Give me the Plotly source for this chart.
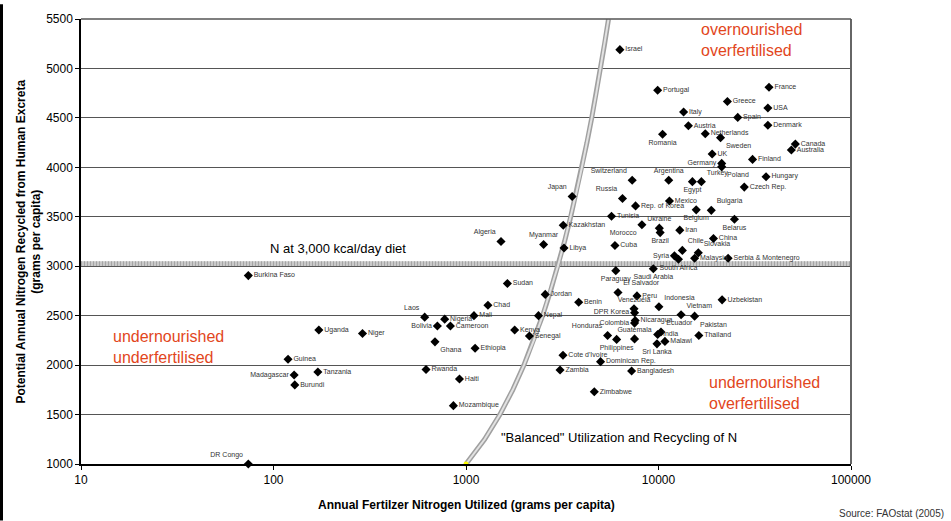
import plotly.graph_objects as go

# ---------------- data ----------------
countries = [
    "Israel", "Portugal", "France", "Greece", "USA", "Italy", "Spain", "Austria", "Denmark",
    "Netherlands", "Romania", "Sweden", "Canada", "Australia", "UK", "Finland", "Germany",
    "Poland", "Hungary", "Switzerland", "Argentina", "Egypt", "Turkey", "Czech Rep.", "Japan",
    "Russia", "Rep. of Korea", "Mexico", "Bulgaria", "Belgium", "Tunisia", "Belarus",
    "Kazakhstan", "Morocco", "Ukraine", "Brazil", "Iran", "China", "Algeria", "Myanmar",
    "Libya", "Cuba", "Chile", "Syria", "South Africa", "Slovakia", "Malaysia",
    "Serbia & Montenegro", "Paraguay", "Saudi Arabia", "Sudan", "Jordan", "El Salvador",
    "Peru", "Uzbekistan", "Chad", "Benin", "Venezuela", "Indonesia", "DPR Korea", "Laos",
    "Nigeria", "Mali", "Nepal", "Vietnam", "Pakistan", "Nicaragua", "Colombia", "Bolivia",
    "Cameroon", "Kenya", "Senegal", "Honduras", "Ecuador", "India", "Thailand", "Guatemala",
    "Philippines", "Sri Lanka", "Malawi", "Ghana", "Ethiopia", "Cote d'Ivoire",
    "Dominican Rep.", "Rwanda", "Zambia", "Bangladesh", "Haiti", "Zimbabwe", "Burkina Faso",
    "Uganda", "Niger", "Guinea", "Madagascar", "Tanzania", "Burundi", "Mozambique", "DR Congo",
]
fertilizer_n = [
    6300, 9900, 37500, 22800, 37000, 13500, 25800, 14300, 37000,
    17500, 10500, 21000, 51400, 49000, 19000, 30800, 21300,
    21300, 36200, 7300, 11300, 15000, 16700, 27900, 3560,
    6500, 7600, 11400, 18800, 15700, 5700, 24800,
    3200, 8200, 10100, 10200, 12900, 19300, 1520, 2530,
    3230, 5940, 13300, 12100, 12700, 16100, 15400,
    23000, 6000, 9400, 1640, 2580, 6160,
    7730, 21400, 1300, 3850, 7460, 10050, 7510, 610,
    775, 1100, 2380, 13100, 15400, 7570, 7510, 710,
    830, 1790, 2135, 5440, 10300, 9900, 16200, 7510,
    6060, 9820, 10800, 690, 1115, 3190,
    5000, 620, 3080, 7250, 925, 4640, 74,
    172, 290, 119, 128, 170, 129, 860, 74,
]
recycled_n = [
    5190, 4780, 4810, 4665, 4600, 4560, 4505, 4420, 4425,
    4340, 4335, 4300, 4235, 4175, 4135, 4080, 4040,
    4005, 3905, 3870, 3870, 3855, 3855, 3800, 3705,
    3685, 3610, 3660, 3565, 3570, 3505, 3475,
    3415, 3420, 3385, 3340, 3365, 3280, 3250, 3220,
    3185, 3210, 3160, 3105, 3070, 3135, 3080,
    3080, 2955, 2975, 2825, 2715, 2735,
    2700, 2660, 2605, 2635, 2570, 2590, 2530, 2485,
    2465, 2500, 2500, 2510, 2495, 2450, 2425, 2395,
    2395, 2355, 2295, 2300, 2335, 2310, 2300, 2265,
    2260, 2215, 2240, 2235, 2170, 2100,
    2035, 1955, 1950, 1940, 1860, 1730, 2905,
    2355, 2320, 2060, 1900, 1930, 1800, 1590, 1000,
]
label_positions = [
    "middle right", "middle right", "middle right", "middle right", "middle right",
    "middle right", "middle right", "middle right", "middle right",
    "middle right", "bottom center", "bottom right", "middle right", "middle right",
    "middle right", "middle right", "middle left",
    "bottom right", "middle right", "top left", "top center", "bottom center", "top right",
    "middle right", "top left",
    "top left", "middle right", "middle right", "top right", "bottom center", "middle right",
    "bottom center",
    "middle right", "bottom left", "top center", "bottom center", "middle right",
    "middle right", "top left", "top center",
    "middle right", "middle right", "top right", "middle left", "bottom center", "top right",
    "middle right",
    "middle right", "bottom center", "bottom center", "middle right", "middle right",
    "top right",
    "middle right", "middle right", "middle right", "middle right", "top center", "top right",
    "middle left", "top left",
    "middle right", "middle right", "middle right", "top right", "bottom right",
    "middle right", "middle left", "middle left",
    "middle right", "middle right", "middle right", "top left", "top right", "middle right",
    "middle right", "top center",
    "bottom center", "bottom center", "middle right", "bottom right", "middle right",
    "middle right",
    "middle right", "middle right", "middle right", "middle right", "middle right",
    "middle right", "middle right",
    "middle right", "middle right", "middle right", "middle left", "middle right",
    "middle right", "middle right", "top left",
]

# "Balanced" line: fertiliser N equals recycled N
balance_x = [1000, 1250, 1500, 1750, 2000, 2250, 2500, 2750, 3000, 3250, 3500, 3750,
             4000, 4250, 4500, 4750, 5000, 5250, 5500]
balance_y = [1000, 1250, 1500, 1750, 2000, 2250, 2500, 2750, 3000, 3250, 3500, 3750,
             4000, 4250, 4500, 4750, 5000, 5250, 5500]

diet_n_level = 3025   # N at 3,000 kcal/day diet

x_tick_vals = [10, 100, 1000, 10000, 100000]
x_tick_text = ["10", "100", "1000", "10000", "100000"]
y_tick_vals = [1000, 1500, 2000, 2500, 3000, 3500, 4000, 4500, 5000, 5500]

# ---------------- figure ----------------
W, H = 951, 521
ML, MR, MT, MB = 81, 100, 15, 57
PW, PH = W - ML - MR, H - MT - MB

ORANGE = "#E2461C"
LABEL_FONT = "Liberation Sans Narrow, Arial Narrow, Liberation Sans, Arial, sans-serif"
MAIN_FONT = "Liberation Sans, Arial, sans-serif"

fig = go.Figure()

# balanced line (double gray line)
fig.add_trace(go.Scatter(x=balance_x, y=balance_y, mode="lines",
                         line=dict(color="#a0a0a0", width=5), hoverinfo="skip",
                         showlegend=False, cliponaxis=False))
fig.add_trace(go.Scatter(x=balance_x, y=balance_y, mode="lines",
                         line=dict(color="#e2e2e2", width=2), hoverinfo="skip",
                         showlegend=False, cliponaxis=False))
fig.add_trace(go.Scatter(x=balance_x[:1], y=balance_y[:1], mode="markers",
                         marker=dict(color="#ffff00", size=5), hoverinfo="skip",
                         showlegend=False, cliponaxis=False))

# countries
fig.add_trace(go.Scatter(
    x=fertilizer_n, y=recycled_n, mode="markers+text", text=countries,
    textposition=label_positions,
    textfont=dict(family=LABEL_FONT, size=7, color="#333333"),
    marker=dict(symbol="diamond", size=7, color="black"),
    showlegend=False, cliponaxis=False,
))

shapes = [
    # diet level band
    dict(type="line", xref="paper", x0=0, x1=1, yref="y", y0=diet_n_level, y1=diet_n_level,
         line=dict(color="#c9c9c9", width=5), layer="below"),
    dict(type="line", xref="paper", x0=0, x1=1, yref="y", y0=diet_n_level, y1=diet_n_level,
         line=dict(color="#a5a5a5", width=5, dash="1px,2px"), layer="below"),
    # right border
    dict(type="line", xref="paper", x0=1, x1=1, yref="paper", y0=0, y1=1,
         line=dict(color="#666666", width=2)),
    # top border
    dict(type="line", xref="paper", x0=0, x1=1, yref="paper", y0=1, y1=1,
         line=dict(color="#555555", width=1.5)),
    # left frame strip of the picture
    dict(type="rect", xref="paper", x0=-ML / PW, x1=-(ML - 3) / PW,
         yref="paper", y0=-MB / PH, y1=(PH + MT) / PH,
         fillcolor="black", line=dict(width=0)),
]

annotations = [
    dict(text="overnourished<br>overfertilised", x=4.211, y=5289, xref="x", yref="y",
         xanchor="left", yanchor="middle", align="left", showarrow=False,
         font=dict(family=MAIN_FONT, size=16, color=ORANGE)),
    dict(text="undernourished<br>underfertilised", x=1.1556, y=2182, xref="x", yref="y",
         xanchor="left", yanchor="middle", align="left", showarrow=False,
         font=dict(family=MAIN_FONT, size=16, color=ORANGE)),
    dict(text="undernourished<br>overfertilised", x=4.2529, y=1721, xref="x", yref="y",
         xanchor="left", yanchor="middle", align="left", showarrow=False,
         font=dict(family=MAIN_FONT, size=16, color=ORANGE)),
    dict(text="N at 3,000 kcal/day diet", x=1.970, y=3184, xref="x", yref="y",
         xanchor="left", yanchor="middle", showarrow=False,
         font=dict(family=MAIN_FONT, size=13, color="black")),
    dict(text="\"Balanced\" Utilization and Recycling of N", x=3.1738, y=1270,
         xref="x", yref="y", xanchor="left", yanchor="middle", showarrow=False,
         font=dict(family=MAIN_FONT, size=13, color="black")),
    dict(text="Source: FAOstat (2005)", x=(W - 5 - ML) / PW, y=-(514 - MT - PH) / PH,
         xref="paper", yref="paper", xanchor="right", yanchor="middle", showarrow=False,
         font=dict(family=MAIN_FONT, size=10, color="#333333")),
    dict(text="<b>Annual Fertilzer Nitrogen Utilized (grams per capita)</b>",
         x=0.5, y=-(505 - MT - PH) / PH, xref="paper", yref="paper",
         xanchor="center", yanchor="middle", showarrow=False,
         font=dict(family=MAIN_FONT, size=12, color="black")),
    dict(text="<b>Potential Annual Nitrogen Recycled from Human Excreta<br>(grams per capita)</b>",
         x=-(ML - 28) / PW, y=0.5, xref="paper", yref="paper", textangle=-90,
         xanchor="center", yanchor="middle", showarrow=False,
         font=dict(family=MAIN_FONT, size=12, color="black")),
]

fig.update_layout(
    width=W, height=H,
    margin=dict(l=ML, r=MR, t=MT, b=MB, pad=0),
    paper_bgcolor="white", plot_bgcolor="white",
    font=dict(family=MAIN_FONT, size=12, color="black"),
    shapes=shapes, annotations=annotations,
    xaxis=dict(type="log", range=[1, 5], tickvals=x_tick_vals, ticktext=x_tick_text,
               showgrid=False, zeroline=False, showline=True, linecolor="black",
               linewidth=1.5, ticks="outside", ticklen=4, tickcolor="black",
               tickfont=dict(size=12, color="black")),
    yaxis=dict(range=[1000, 5500], tickvals=y_tick_vals, showgrid=True,
               gridcolor="#555555", gridwidth=1, zeroline=False, showline=True,
               linecolor="black", linewidth=1.5, ticks="outside", ticklen=4,
               tickcolor="black", tickfont=dict(size=12, color="black")),
)

fig.write_html("out.html")
